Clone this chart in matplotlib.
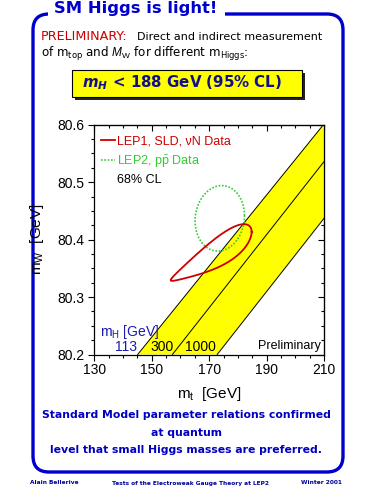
import numpy as np
import matplotlib
matplotlib.use('Agg')
import matplotlib.pyplot as plt
from matplotlib.patches import FancyBboxPatch, Rectangle

# ── Data ───────────────────────────────────────────────────────────────────────
mt_lim   = [130, 210]
mw_lim   = [80.2, 80.6]
mt_ticks = [130, 150, 170, 190, 210]
mw_ticks = [80.2, 80.3, 80.4, 80.5, 80.6]

# SM prediction lines: m_t where each m_H line crosses m_W = 80.2 and 80.6
mh_labels       = ["113", "300", "1000"]
band_mt_at_low  = [145.1, 157.2, 172.8]
band_mt_at_high = [209.8, 220.1, 235.6]
band_mw         = [80.2, 80.6]

# 68% CL contours: centre (m_t, m_W), half extents, correlation, egg skew
lep1_center = [170.7, 80.3714]
lep1_half   = [14.1, 0.0487]
lep1_rho    = 0.862
lep1_skew   = 0.6

lep2_center = [173.7, 80.437]
lep2_half   = [8.6, 0.057]
lep2_rho    = 0.08
lep2_skew   = 0.0

BLUE   = '#0000cc'
RED    = '#cc0000'
GREEN  = '#33cc33'
YELLOW = '#ffff00'

plt.rcParams['font.family'] = ['Liberation Sans', 'DejaVu Sans']
plt.rcParams['mathtext.fontset'] = 'custom'
plt.rcParams['mathtext.rm'] = 'Liberation Sans'
plt.rcParams['mathtext.it'] = 'Liberation Sans:italic'
plt.rcParams['mathtext.bf'] = 'Liberation Sans:bold'
plt.rcParams['mathtext.sf'] = 'DejaVu Sans'
plt.rcParams['mathtext.bfit'] = 'DejaVu Sans:italic:bold'


def contour(center, half, rho, skew):
    # closed 68% CL outline; skew makes the high-m_t end blunter
    t = np.linspace(0, 2 * np.pi, 361)
    c, s = np.cos(t), np.sin(t)
    x = center[0] + half[0] * c
    y = center[1] + half[1] * (rho * c + np.sqrt(1 - rho ** 2) * (1 + skew * c) * s)
    return x, y


fig = plt.figure(figsize=(3.75, 5), dpi=100)

# ── Slide frame (pixel coordinates) ───────────────────────────────────────────
bg = fig.add_axes([0, 0, 1, 1], zorder=0)
bg.set_xlim(0, 375)
bg.set_ylim(500, 0)
bg.axis('off')

bg.add_patch(FancyBboxPatch((33, 14), 310, 458,
                            boxstyle="round,pad=0,rounding_size=16",
                            fc='white', ec=BLUE, lw=2.4))
bg.add_patch(Rectangle((48, 5), 177, 14, fc='white', ec='none', zorder=3))
bg.text(54, 13, "SM Higgs is light!", color=BLUE, fontsize=11.8,
        fontweight='bold', family='DejaVu Sans', va='baseline', zorder=4)

bg.text(41, 40, "PRELIMINARY:", color=RED, fontsize=9.2,
        family='DejaVu Sans', va='baseline')
bg.text(137, 40, "Direct and indirect measurement", color='black',
        fontsize=8.0, family='DejaVu Sans', va='baseline')
bg.text(41, 57, r"of $\mathsf{m_{top}}$ and $M_\mathrm{W}$ for different $\mathsf{m_{Higgs}}$:",
        color='black', fontsize=8.6, family='DejaVu Sans', va='baseline')

# yellow box with shadow
bg.add_patch(Rectangle((75, 73), 230, 27, fc='#222222', ec='none'))
bg.add_patch(Rectangle((72, 70), 230, 27, fc=YELLOW, ec='black', lw=0.8))
bg.text(182, 87.3, r"$\mathbfit{m_H}$ < 188 GeV (95% CL)", color='#10108a',
        fontsize=10.8, fontweight='bold', family='DejaVu Sans',
        ha='center', va='baseline')

# bottom statement
for txt, y in [("Standard Model parameter relations confirmed", 418.5),
               ("at quantum", 435.5),
               ("level that small Higgs masses are preferred.", 453)]:
    bg.text(186.5, y, txt, color='#0000c0', fontsize=7.8, fontweight='bold',
            family='DejaVu Sans', ha='center', va='baseline')

# footer
foot = dict(color='#000099', fontsize=4.2, fontweight='bold',
            family='DejaVu Sans', va='center')
bg.text(30, 483, "Alain Bellerive", ha='left', **foot)
bg.text(190, 483, "Tests of the Electroweak Gauge Theory at LEP2", ha='center', **foot)
bg.text(342, 483, "Winter 2001", ha='right', **foot)

# ── Main plot ─────────────────────────────────────────────────────────────────
ax = fig.add_axes([0.2515, 0.291, 0.6125, 0.4596], zorder=2)
ax.set_xlim(*mt_lim)
ax.set_ylim(*mw_lim)

# yellow band between the 113 and 1000 GeV lines
ax.fill([band_mt_at_low[0], band_mt_at_high[0], band_mt_at_high[2], band_mt_at_low[2]],
        [band_mw[0], band_mw[1], band_mw[1], band_mw[0]],
        color=YELLOW, lw=0, zorder=1)
for lo, hi in zip(band_mt_at_low, band_mt_at_high):
    ax.plot([lo, hi], band_mw, color='black', lw=0.7, zorder=2)

x1, y1 = contour(lep1_center, lep1_half, lep1_rho, lep1_skew)
x2, y2 = contour(lep2_center, lep2_half, lep2_rho, lep2_skew)
ax.plot(x2, y2, color=GREEN, lw=1.2, ls=(0, (1, 1)), zorder=3,
        label=r"LEP2, p$\bar{\mathrm{p}}$ Data")
ax.plot(x1, y1, color=RED, lw=1.3, zorder=4, label=u"LEP1, SLD, \u03bdN Data")

h, l = ax.get_legend_handles_labels()
ax.legend(h[::-1], l[::-1], loc='upper left', bbox_to_anchor=(0.029, 0.952),
          frameon=False, fontsize=9, handlelength=1.1, handletextpad=0.2,
          borderpad=0, borderaxespad=0, labelspacing=0.45, labelcolor='linecolor')
ax.text(137.9, 80.5037, "68% CL", fontsize=9, va='center', ha='left')

ax.text(132.0, 80.2389, r"m$_\mathrm{H}$ [GeV]", color='#1a1ab0', fontsize=10, va='center')
ax.text(144.8, 80.2133, mh_labels[0], color='#1a1ab0', fontsize=10, va='center', ha='right')
ax.text(149.5, 80.2133, mh_labels[1], color='black', fontsize=10, va='center')
ax.text(161.6, 80.2133, mh_labels[2], color='black', fontsize=10, va='center')
ax.text(208.9, 80.2145, "Preliminary", color='black', fontsize=9, va='center', ha='right')

# ticks: outside on bottom/left, inside on top/right
ax.set_xticks(mt_ticks)
ax.set_yticks(mw_ticks)
ax.set_xticks(np.arange(130, 211, 5), minor=True)
ax.set_yticks(np.arange(80.2, 80.601, 0.025), minor=True)
ax.tick_params(which='both', direction='out', width=0.8, labelsize=10)
ax.tick_params(axis='x', pad=2)
ax.tick_params(axis='y', pad=3)
ax.tick_params(which='major', length=4)
ax.tick_params(which='minor', length=2.2)
for s in ax.spines.values():
    s.set_linewidth(0.9)

top = ax.secondary_xaxis('top')
top.set_xticks(mt_ticks)
top.set_xticks(np.arange(130, 211, 5), minor=True)
top.tick_params(which='both', direction='in', labeltop=False, width=0.8)
top.tick_params(which='major', length=4)
top.tick_params(which='minor', length=2.2)
right = ax.secondary_yaxis('right')
right.set_yticks(mw_ticks)
right.set_yticks(np.arange(80.2, 80.601, 0.025), minor=True)
right.tick_params(which='both', direction='in', labelright=False, width=0.8)
right.tick_params(which='major', length=4)
right.tick_params(which='minor', length=2.2)

ax.set_xlabel(r"m$_\mathrm{t}$  [GeV]", fontsize=11, labelpad=6)
ax.set_ylabel(r"m$_\mathrm{W}$  [GeV]", fontsize=11, labelpad=8)

fig.savefig('out.png', dpi=100)
